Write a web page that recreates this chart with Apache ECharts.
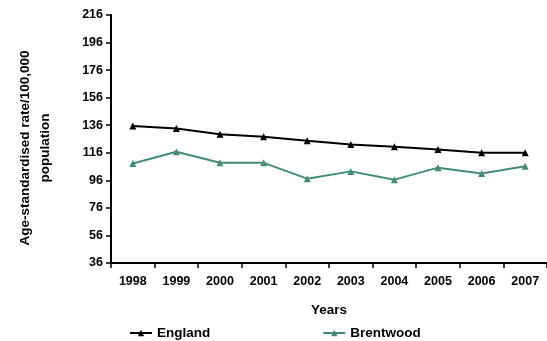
<!DOCTYPE html>
<html>
<head>
<meta charset="utf-8">
<script src="https://cdn.jsdelivr.net/npm/echarts@6/dist/echarts.min.js"></script>
<style>html,body{margin:0;padding:0;background:#fff;}#c{width:547px;height:341px;}</style>
</head>
<body>
<div id="c"></div>
<script>
var years = ['1998','1999','2000','2001','2002','2003','2004','2005','2006','2007'];
var england = [135.5, 133.7, 129.5, 127.6, 124.7, 122, 120.3, 118.4, 116, 116];
var brentwood = [108.2, 116.7, 108.7, 108.7, 97.2, 102.5, 96.5, 105.2, 100.9, 106.2];
var yTicks = {min: 36, max: 216, step: 20};

var font = 'Liberation Sans, Arial, sans-serif';
var chart = echarts.init(document.getElementById('c'), null, {renderer: 'canvas'});
chart.setOption({
  animation: false,
  backgroundColor: '#fff',
  grid: {left: 111, top: 15, right: 0, bottom: 78, containLabel: false},
  legend: {
    left: 129, top: 326, padding: 0, itemGap: 112, itemWidth: 22, itemHeight: 8,
    textStyle: {fontFamily: font, fontWeight: 'bold', fontSize: 13.5, color: '#000'},
    data: ['England', 'Brentwood']
  },
  xAxis: {
    type: 'category', data: years, boundaryGap: true,
    name: 'Years', nameLocation: 'middle', nameGap: 40,
    nameTextStyle: {fontFamily: font, fontWeight: 'bold', fontSize: 13.5, color: '#000'},
    axisLine: {lineStyle: {color: '#000', width: 2}},
    axisTick: {show: true, length: 5, lineStyle: {color: '#000', width: 1.5}},
    axisLabel: {margin: 12, fontFamily: font, fontWeight: 'bold', fontSize: 12.5, color: '#000'}
  },
  yAxis: {
    type: 'value', min: yTicks.min, max: yTicks.max, interval: yTicks.step,
    name: 'Age-standardised rate/100,000\npopulation', nameLocation: 'middle', nameGap: 56, nameRotate: 90,
    nameTextStyle: {fontFamily: font, fontWeight: 'bold', fontSize: 13.5, color: '#000', lineHeight: 20, padding: [0, 0, 0, -18]},
    axisLine: {show: true, lineStyle: {color: '#000', width: 2}},
    axisTick: {show: true, length: 5, lineStyle: {color: '#000', width: 1.5}},
    splitLine: {show: false},
    axisLabel: {margin: 8, fontFamily: font, fontWeight: 'bold', fontSize: 12.5, color: '#000'}
  },
  series: [
    {name: 'England', type: 'line', data: england, symbol: 'triangle', symbolSize: 7,
     itemStyle: {color: '#000'}, lineStyle: {color: '#000', width: 2}},
    {name: 'Brentwood', type: 'line', data: brentwood, symbol: 'triangle', symbolSize: 7,
     itemStyle: {color: '#428c74'}, lineStyle: {color: '#428c74', width: 2}}
  ]
});
</script>
</body>
</html>
